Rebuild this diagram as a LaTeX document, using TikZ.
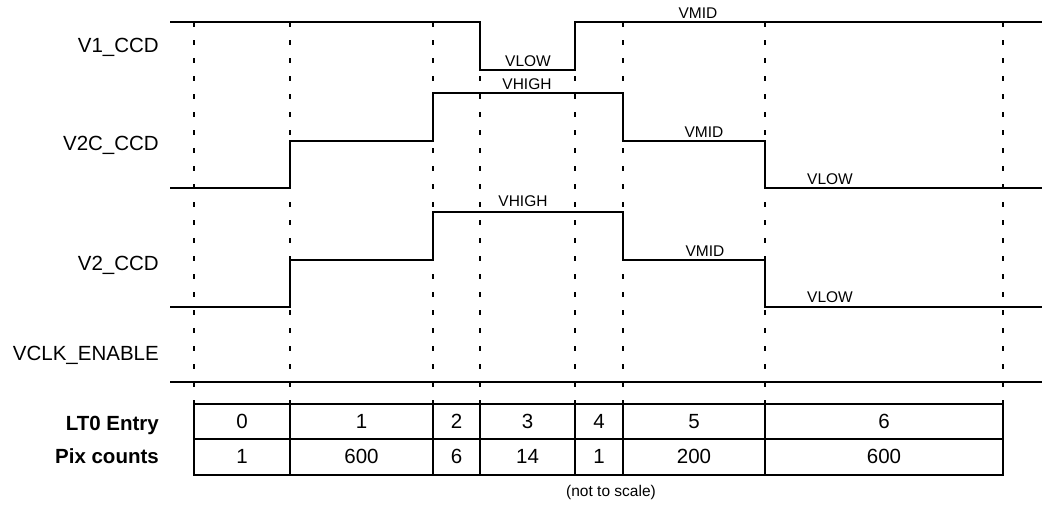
\documentclass[tikz,border=0pt]{standalone}
\usepackage{fontspec}
\setmainfont{Liberation Sans}
\begin{document}
\begin{tikzpicture}[x=1pt,y=-1pt,
  wave/.style={line width=2pt},
  guide/.style={line width=2pt,dash pattern=on 5pt off 13pt},
  sig/.style={anchor=base east,inner xsep=0pt,font=\fontsize{20.5}{24}\selectfont},
  lvl/.style={anchor=base,font=\fontsize{15.5}{18}\selectfont},
  cell/.style={anchor=base,font=\fontsize{20.5}{24}\selectfont}]
  \useasboundingbox (0,0) rectangle (1042,506);
  % dashed time marks
  \foreach \x in {194,290,433,480,575,623,765,1003}
    \draw[guide] (\x,22) -- (\x,404);
  % signal names
  \node[sig] (v1)   at (159,52)    {V1\_CCD};
  \node[sig] (v2c)  at (159,150)   {V2C\_CCD};
  \node[sig] (v2)   at (159,270.7) {V2\_CCD};
  \node[sig] (vclk) at (159,360)   {VCLK\_ENABLE};
  % waveforms
  \draw[wave] (170,22) -- (480,22) -- (480,70) -- (575,70) -- (575,22) -- (1042,22);
  \draw[wave] (170,188) -- (290,188) -- (290,141) -- (433,141) -- (433,93)
    -- (623,93) -- (623,141) -- (765,141) -- (765,188) -- (1042,188);
  \draw[wave] (170,307) -- (290,307) -- (290,260) -- (433,260) -- (433,212)
    -- (623,212) -- (623,260) -- (765,260) -- (765,307) -- (1042,307);
  \draw[wave] (170,381.5) -- (1042,381.5);
  % level names
  \node[lvl] (v1mid)   at (698,18)    {VMID};
  \node[lvl] (v1low)   at (528,66)    {VLOW};
  \node[lvl] (v2chigh) at (527,89)    {VHIGH};
  \node[lvl] (v2cmid)  at (704,137)   {VMID};
  \node[lvl] (v2clow)  at (830,184)   {VLOW};
  \node[lvl] (v2high)  at (523,206.7) {VHIGH};
  \node[lvl] (v2mid)   at (705,256)   {VMID};
  \node[lvl] (v2low)   at (830,302.7) {VLOW};
  % table
  \draw[wave] (194,404) rectangle (1003,475);
  \draw[wave] (194,439) -- (1003,439);
  \foreach \x in {290,433,480,575,623,765}
    \draw[wave] (\x,404) -- (\x,475);
  \node[sig,font=\fontsize{20.5}{24}\selectfont\bfseries] (entry) at (159,430) {LT0 Entry};
  \node[sig,font=\fontsize{20.5}{24}\selectfont\bfseries] (pix)   at (159,463) {Pix counts};
  \foreach \a/\b/\e/\p [count=\i] in {194/290/0/1, 290/433/1/600, 433/480/2/6,
      480/575/3/14, 575/623/4/1, 623/765/5/200, 765/1003/6/600} {
    \node[cell] (e\i) at ({(\a+\b)/2},428.3) {\e};
    \node[cell] (p\i) at ({(\a+\b)/2},463.3) {\p};
  }
  \node[lvl] (note) at (611,496) {(not to scale)};
\end{tikzpicture}
\end{document}
